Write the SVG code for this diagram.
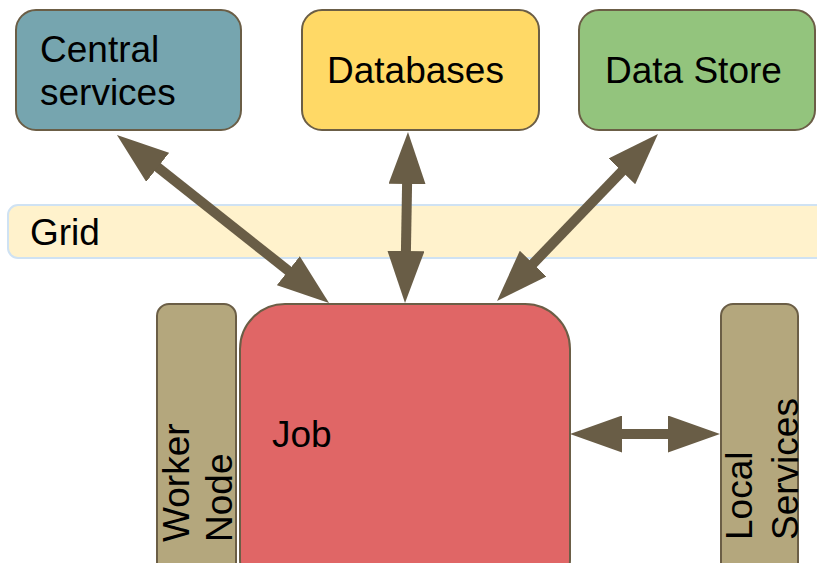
<svg xmlns="http://www.w3.org/2000/svg" width="817" height="563" viewBox="0 0 817 563">
  <style>
    .box { stroke: #6b5e46; stroke-width: 2; }
    .lbl { font-family: "Liberation Sans", Arial, sans-serif; font-size: 37px; fill: #000; }
    .conn { stroke: #695d46; stroke-width: 10; fill: none; marker-start: url(#head); marker-end: url(#head); }
  </style>
  <defs>
    <marker id="head" viewBox="0 0 52 37" markerWidth="52" markerHeight="37" refX="30" refY="18.5" markerUnits="userSpaceOnUse" orient="auto-start-reverse">
      <path d="M0,0 L52,18.5 L0,37 z" fill="#695d46"/>
    </marker>
  </defs>
  <rect width="817" height="563" fill="#fff"/>

  <!-- Grid band -->
  <g id="grid">
    <rect x="8" y="205" width="820" height="53" rx="10" fill="#fff2cc" stroke="#cfe2f3" stroke-width="2"/>
    <text class="lbl" x="30" y="245">Grid</text>
  </g>

  <g id="central-services">
    <rect class="box" x="16" y="10" width="225" height="120" rx="20" fill="#76a5af"/>
    <text class="lbl" x="40" y="62">Central</text>
    <text class="lbl" x="40" y="105">services</text>
  </g>

  <g id="databases">
    <rect class="box" x="302" y="10" width="237" height="120" rx="20" fill="#ffd966"/>
    <text class="lbl" x="327" y="83">Databases</text>
  </g>

  <g id="data-store">
    <rect class="box" x="579" y="10" width="236" height="120" rx="20" fill="#93c47d"/>
    <text class="lbl" x="605" y="83">Data Store</text>
  </g>

  <g id="worker-node">
    <rect class="box" x="157" y="304" width="79" height="280" rx="12" fill="#b4a77d"/>
    <text class="lbl" transform="translate(189,542) rotate(-90)">Worker</text>
    <text class="lbl" transform="translate(232,542) rotate(-90)">Node</text>
  </g>

  <g id="job">
    <rect class="box" x="240" y="304" width="330" height="300" rx="45" fill="#e06666"/>
    <text class="lbl" x="272" y="447">Job</text>
  </g>

  <g id="local-services">
    <rect class="box" x="721" y="304" width="77" height="280" rx="12" fill="#b4a77d"/>
    <text class="lbl" transform="translate(752,540) rotate(-90)">Local</text>
    <text class="lbl" transform="translate(798,540) rotate(-90)">Services</text>
  </g>

  <!-- Two-way connectors; each line stops short of the tips, the markers supply the heads -->
  <g id="connectors">
    <line class="conn" x1="134.2" y1="148.7" x2="311.8" y2="289.3"/>
    <line class="conn" x1="407.6" y1="154" x2="405.4" y2="281"/>
    <line class="conn" x1="642.7" y1="149.8" x2="512.3" y2="285.2"/>
    <line class="conn" x1="592" y1="434" x2="698" y2="434"/>
  </g>
</svg>
